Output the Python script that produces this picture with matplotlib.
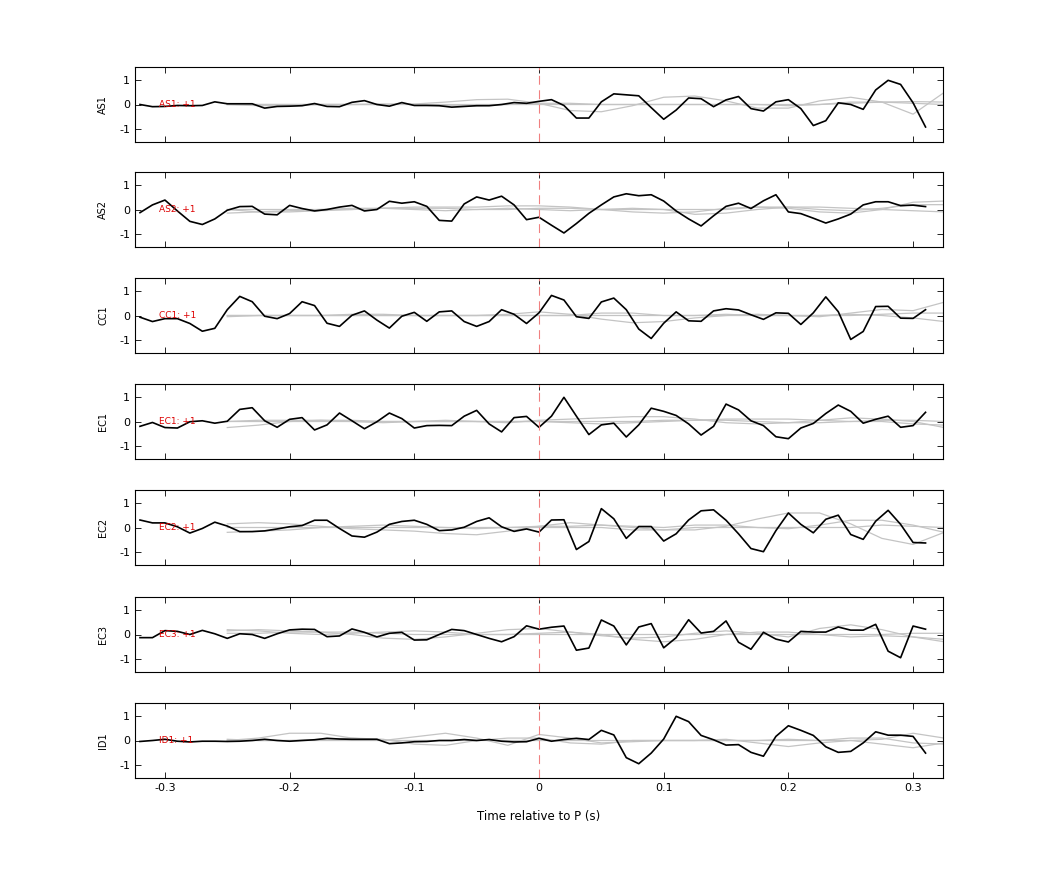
import numpy as np
import matplotlib
matplotlib.use("Agg")
import matplotlib.pyplot as plt

t_black = np.round(np.arange(-0.32, 0.3101, 0.01), 3)
t_gray = np.round(np.arange(-0.25, 0.3251, 0.025), 3)

stations = ["AS1", "AS2", "CC1", "EC1", "EC2", "EC3", "ID1"]

AS1 = [0,-.09,-.08,-.04,-.05,-.04,.11,.03,.03,.03,-.15,-.08,-.07,-.05,.04,-.08,-.09,.09,.16,0,-.07,.08,-.04,-.04,-.05,-.11,-.08,-.05,-.05,0,.08,.05,.13,.2,-.04,-.56,-.56,.11,.44,.4,.36,-.13,-.61,-.23,.27,.24,-.09,.19,.33,-.17,-.27,.11,.2,-.17,-.87,-.67,.07,0,-.2,.6,1.0,.83,.07,-.93]
AS2 = [-.13,.19,.39,-.06,-.49,-.62,-.39,-.03,.12,.13,-.19,-.22,.17,.04,-.06,0,.1,.17,-.06,0,.34,.26,.32,.13,-.45,-.48,.23,.52,.39,.55,.19,-.42,-.32,-.65,-.97,-.58,-.16,.19,.52,.65,.57,.61,.35,-.06,-.39,-.68,-.26,.13,.26,.04,.36,.61,-.1,-.17,-.36,-.56,-.39,-.19,.19,.32,.32,.16,.18,.12]
CC1 = [-.07,-.25,-.13,-.13,-.33,-.65,-.53,.24,.79,.57,-.03,-.13,.08,.57,.41,-.32,-.45,.01,.19,-.19,-.52,-.03,.13,-.24,.15,.19,-.25,-.45,-.25,.24,.05,-.33,.11,.83,.64,-.05,-.12,.56,.72,.24,-.56,-.95,-.32,.15,-.22,-.24,.19,.28,.23,.03,-.16,.11,.09,-.37,.11,.77,.16,-.99,-.66,.37,.38,-.11,-.12,.24]
EC1 = [-.2,-.04,-.25,-.27,-.01,.03,-.07,.01,.5,.57,.03,-.24,.09,.16,-.35,-.14,.35,.03,-.3,-.01,.35,.12,-.27,-.17,-.16,-.17,.22,.46,-.1,-.43,.16,.21,-.24,.22,1.0,.22,-.54,-.14,-.07,-.64,-.14,.55,.42,.25,-.1,-.56,-.2,.72,.48,.03,-.17,-.63,-.71,-.27,-.08,.33,.68,.42,-.07,.09,.22,-.24,-.17,.38]
EC2 = [.31,.19,.19,.03,-.23,-.04,.22,.06,-.17,-.17,-.14,-.06,.03,.08,.3,.3,-.04,-.35,-.4,-.19,.13,.25,.3,.13,-.13,-.1,.01,.25,.4,.03,-.16,-.06,-.19,.31,.32,-.91,-.58,.78,.36,-.45,.04,.04,-.56,-.26,.31,.69,.73,.3,-.26,-.87,-1.0,-.13,.6,.13,-.22,.34,.51,-.29,-.49,.26,.71,.13,-.62,-.64]
EC3 = [-.13,-.13,.16,.13,0,.17,.03,-.16,.03,0,-.16,.03,.19,.22,.21,-.09,-.06,.23,.09,-.1,.05,.09,-.23,-.22,0,.21,.16,0,-.16,-.3,-.09,.36,.22,.3,.35,-.65,-.56,.6,.35,-.43,.31,.45,-.55,-.13,.61,.06,.13,.56,-.32,-.61,.09,-.19,-.31,.13,.1,.1,.31,.18,.18,.42,-.69,-.96,.35,.22]
ID1 = [-.04,0,.05,-.03,-.06,-.03,-.03,-.04,-.03,0,.05,0,-.03,0,.03,.09,.06,.05,.05,.05,-.13,-.1,-.05,-.04,0,0,.04,0,.04,-.03,-.06,-.05,.09,-.03,.04,.09,.04,.42,.23,-.71,-.96,-.52,.06,1.0,.78,.21,.03,-.19,-.17,-.49,-.65,.17,.61,.42,.21,-.26,-.49,-.45,-.1,.36,.22,.22,.17,-.52]

G_AS1 = [[0,0,0,0,0,0,0.02,0.1,0.2,0.22,0.05,-0.25,-0.3,-0.05,0.3,0.35,0.15,-0.15,-0.15,0.15,0.3,0.1,-0.4,0.5],
         [0,-0.05,-0.05,0,0,0.02,0,-0.05,-0.05,0,0.05,0.05,0,0,0,0,0,0,0,0,0.05,0.1,0.12,0.1],
         [0,0,0,0,0,0,0,0,0,0,0,0,0,0,0,0,0,0,-0.05,0,0.1,0.1,0.05,0]]
G_AS2 = [[0,-0.1,-0.1,-0.05,0,0.05,0.1,0.1,0.1,0.15,0.15,0.1,0,-0.1,-0.15,-0.1,0.05,0.1,0.05,-0.1,-0.15,0,0.3,0.35],
         [-0.15,-0.1,-0.05,0,0.05,0.05,0,-0.05,0,0.05,0,-0.05,0,0.05,0,-0.2,-0.15,0,0.1,0.1,0.05,0,-0.05,-0.1],
         [0,0,0,0,0,0.05,0.05,0.05,0,0,0.05,0.05,0,0,0,0,0,0.1,0.1,0,-0.05,0.05,0.2,0.2]]
G_CC1 = [[0,0,0,0,0,0,0,0,0,0.05,0.15,0.05,-0.15,-0.3,-0.25,-0.1,0,0.05,0,-0.05,0.1,0.25,0.2,0.55],
         [0,0,0,0,0.05,0.05,0,0,0,0,0,0,0.1,0.1,0,0,0.05,0,0,0,0.05,0,-0.1,-0.25],
         [-0.05,0,0,0,0,0,0,0,0,0,0,0,0,0,0,0,0,0,0,0,0,0.05,0.1,0.1]]
G_EC1 = [[-0.25,-0.15,0,0.05,0,-0.05,0,0.05,0,-0.05,0.05,0.1,0.15,0.2,0.2,0.1,-0.05,-0.1,-0.05,0.05,0.15,0.1,0,-0.25],
         [0,0.05,0.05,0.05,0.05,0,0,0,0,0,0,-0.05,-0.1,-0.05,0,0.05,0.1,0.1,0.1,0.05,0,0,-0.1,-0.15],
         [0,0,0,0,0,0,0,0,0,0,0,0,0,0,0.05,0.05,0.05,0,-0.05,-0.05,0,0.05,0.05,0]]
G_EC2 = [[0.15,0.2,0.15,0.05,-0.05,-0.1,-0.15,-0.25,-0.3,-0.15,0.05,0.2,0.1,0,-0.1,-0.1,0.05,0.35,0.6,0.6,0.15,-0.45,-0.7,-0.2],
         [-0.2,-0.15,-0.1,0,0.05,0.1,0.05,0,-0.05,0,0.05,0.05,0.1,0.05,0,0.1,0.1,0,-0.05,0.1,0.3,0.3,0.1,-0.2],
         [0,0,0,0,0,0,0,0,0,0,0,0,0,-0.1,-0.1,0,0,0,0,0,0,0.1,0.05,0]]
G_EC3 = [[0.15,0.2,0.15,0.1,0,-0.15,-0.2,-0.1,0.05,0.2,0.25,0.1,-0.05,-0.15,-0.1,0.05,0.15,0.05,-0.1,0.25,0.4,0.2,-0.1,-0.3],
         [0.2,0.15,0.05,0,0.05,0.1,0.15,0.1,0,0,0.05,0.1,0,-0.2,-0.3,-0.2,0,0.1,0.1,0,-0.1,-0.05,-0.1,-0.2],
         [0.05,0.05,0.1,0.1,0.1,0.05,0,0,0,0,0,0,0,0,0,0,0,0,0,0,0,0,0.05,0.05]]
G_ID1 = [[0,0.1,0.3,0.3,0.1,0,0.15,0.3,0.1,-0.2,0.25,0.1,-0.1,-0.05,0,0,0.05,-0.1,-0.25,-0.1,0,0.05,0.3,0.1],
         [0.05,0,0,0.05,0.1,0.05,-0.15,-0.2,0,0.1,0.1,-0.1,-0.15,0,0,0,0,0,0,0,0.1,0.1,-0.1,-0.15],
         [0,0,0,0,0,0,0,0,0,0,0,0,0,0,0,0,0,0,0.05,0,0,-0.15,-0.3,-0.1]]

black = [AS1, AS2, CC1, EC1, EC2, EC3, ID1]
gray = [G_AS1, G_AS2, G_CC1, G_EC1, G_EC2, G_EC3, G_ID1]
xticks = [-0.3, -0.2, -0.1, 0, 0.1, 0.2, 0.3]
xticklabels = ["-0.3", "-0.2", "-0.1", "0", "0.1", "0.2", "0.3"]

W, H = 1042, 875
fig = plt.figure(figsize=(W/100, H/100), dpi=100)
left, right = 135/W, 943/W
tops = [67, 172, 278, 384, 490, 597, 703]
ph = 75
for i, st in enumerate(stations):
    ax = fig.add_axes([left, 1 - (tops[i]+ph)/H, right-left, ph/H])
    for g in gray[i]:
        ax.plot(t_gray, g, color="#c4c4c4", lw=0.9)
    ax.plot(t_black, black[i], color="black", lw=1.2)
    ax.axvline(0, color="#f08080", lw=0.8, ls=(0, (8, 5)))
    ax.text(-0.305, 0, f"{st}: +1", color="#dd0000", fontsize=6.5, va="center", ha="left")
    ax.set_xlim(-0.324, 0.324)
    ax.set_ylim(-1.55, 1.55)
    ax.set_yticks([-1, 0, 1])
    ax.set_yticklabels(["-1", "0", "1"])
    ax.set_xticks(xticks)
    ax.set_ylabel(st, fontsize=7, labelpad=8)
    ax.tick_params(direction="in", top=True, right=True, labelsize=8, length=4, width=0.6)
    if i == len(stations) - 1:
        ax.set_xticklabels(xticklabels)
        ax.set_xlabel("Time relative to P (s)", fontsize=8.5, labelpad=12)
    else:
        ax.set_xticklabels([])
    for s in ax.spines.values():
        s.set_linewidth(0.8)

fig.savefig("out.png", dpi=100)
